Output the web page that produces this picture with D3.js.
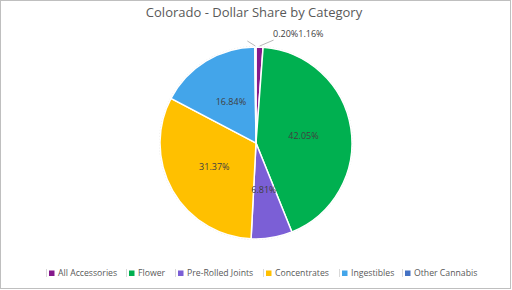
<!DOCTYPE html>
<head>
	<meta charset="utf-8" />
	<style>
		body {
			margin: 0;
			background: #fff;
			font-family: 'Open Sans', sans-serif;
		}
	</style>
</head>
<body>
	<div id="chart-area"></div>
	<script src="https://cdnjs.cloudflare.com/ajax/libs/d3/7.8.5/d3.min.js"></script>
	<script>
		var categories = ['All Accessories', 'Flower', 'Pre-Rolled Joints', 'Concentrates', 'Ingestibles', 'Other Cannabis'];
		var shares = [1.16, 42.05, 6.81, 31.37, 16.84, 0.2];
		var colors = ['#85198C', '#00B050', '#7B5FD6', '#FFC000', '#43A5EA', '#4472C4'];

		var width = 512, height = 290;
		var cx = 256, cy = 143, radius = 96;

		var svg = d3.select('#chart-area')
			.append('svg')
			.attr('width', width)
			.attr('height', height);

		// chart border
		svg.append('rect')
			.attr('x', 0.5).attr('y', 0.5)
			.attr('width', 510).attr('height', 288)
			.attr('fill', '#fff')
			.attr('stroke', '#bfbfbf');

		svg.append('text')
			.attr('x', 254).attr('y', 17)
			.attr('text-anchor', 'middle')
			.attr('font-size', 13)
			.attr('fill', '#595959')
			.text('Colorado - Dollar Share by Category');

		var data = categories.map((c, i) => ({ name: c, value: shares[i], color: colors[i] }));

		var pie = d3.pie().sort(null).value(d => d.value);
		var arc = d3.arc().innerRadius(0).outerRadius(radius);
		var arcs = pie(data);

		var g = svg.append('g').attr('transform', `translate(${cx},${cy})`);

		g.append('circle')
			.attr('r', radius + 0.5)
			.attr('fill', 'none')
			.attr('stroke', '#cfcfcf')
			.attr('stroke-width', 0.7)
			.attr('stroke-dasharray', '1,2');

		g.selectAll('path')
			.data(arcs)
			.join('path')
			.attr('d', arc)
			.attr('fill', d => d.data.color)
			.attr('stroke', '#fff')
			.attr('stroke-width', 1.5);

		var fmt = v => v.toFixed(2) + '%';

		// inside labels for big slices
		g.selectAll('text.lbl')
			.data(arcs.filter(d => d.data.value > 5))
			.join('text')
			.attr('class', 'lbl')
			.attr('transform', d => `translate(${arc.centroid(d)})`)
			.attr('text-anchor', 'middle')
			.attr('dy', '0.35em')
			.attr('font-size', 9)
			.attr('fill', '#404040')
			.text(d => fmt(d.data.value));

		// outside labels for tiny slices, with leader lines
		var small = arcs.filter(d => d.data.value <= 5);
		var pt = (a, r) => [Math.sin(a) * r, -Math.cos(a) * r];
		var leaders = [
			{ d: small.find(d => d.data.name == 'Other Cannabis'), dx: -8, dy: -5 },
			{ d: small.find(d => d.data.name == 'All Accessories'), dx: 14, dy: -6 }
		];
		leaders.forEach(l => {
			var mid = (l.d.startAngle + l.d.endAngle) / 2;
			var p0 = pt(mid, radius + 1);
			g.append('line')
				.attr('x1', p0[0]).attr('y1', p0[1])
				.attr('x2', p0[0] + l.dx).attr('y2', p0[1] + l.dy)
				.attr('stroke', '#a6a6a6')
				.attr('stroke-width', 0.8);
		});
		var oc = small.find(d => d.data.name == 'Other Cannabis');
		var aa = small.find(d => d.data.name == 'All Accessories');
		g.append('text')
			.attr('x', 17).attr('y', -radius - 10)
			.attr('font-size', 9)
			.attr('fill', '#404040')
			.text(fmt(oc.data.value) + fmt(aa.data.value));

		// legend
		var legendX = [49, 129, 178, 266, 342, 405];
		var lg = svg.append('g').attr('transform', 'translate(0,273)');
		var item = lg.selectAll('g')
			.data(data)
			.join('g')
			.attr('transform', (d, i) => `translate(${legendX[i]},0)`);
		item.append('line')
			.attr('x1', -2.5).attr('x2', -2.5)
			.attr('y1', -4).attr('y2', 4)
			.attr('stroke', '#d9d9d9');
		item.append('rect')
			.attr('x', 0).attr('y', -2.5)
			.attr('width', 5.5).attr('height', 5.5)
			.attr('fill', d => d.color);
		item.append('text')
			.attr('x', 9).attr('dy', '0.35em')
			.attr('font-size', 8.7)
			.attr('fill', '#595959')
			.text(d => d.name);
	</script>
</body>
